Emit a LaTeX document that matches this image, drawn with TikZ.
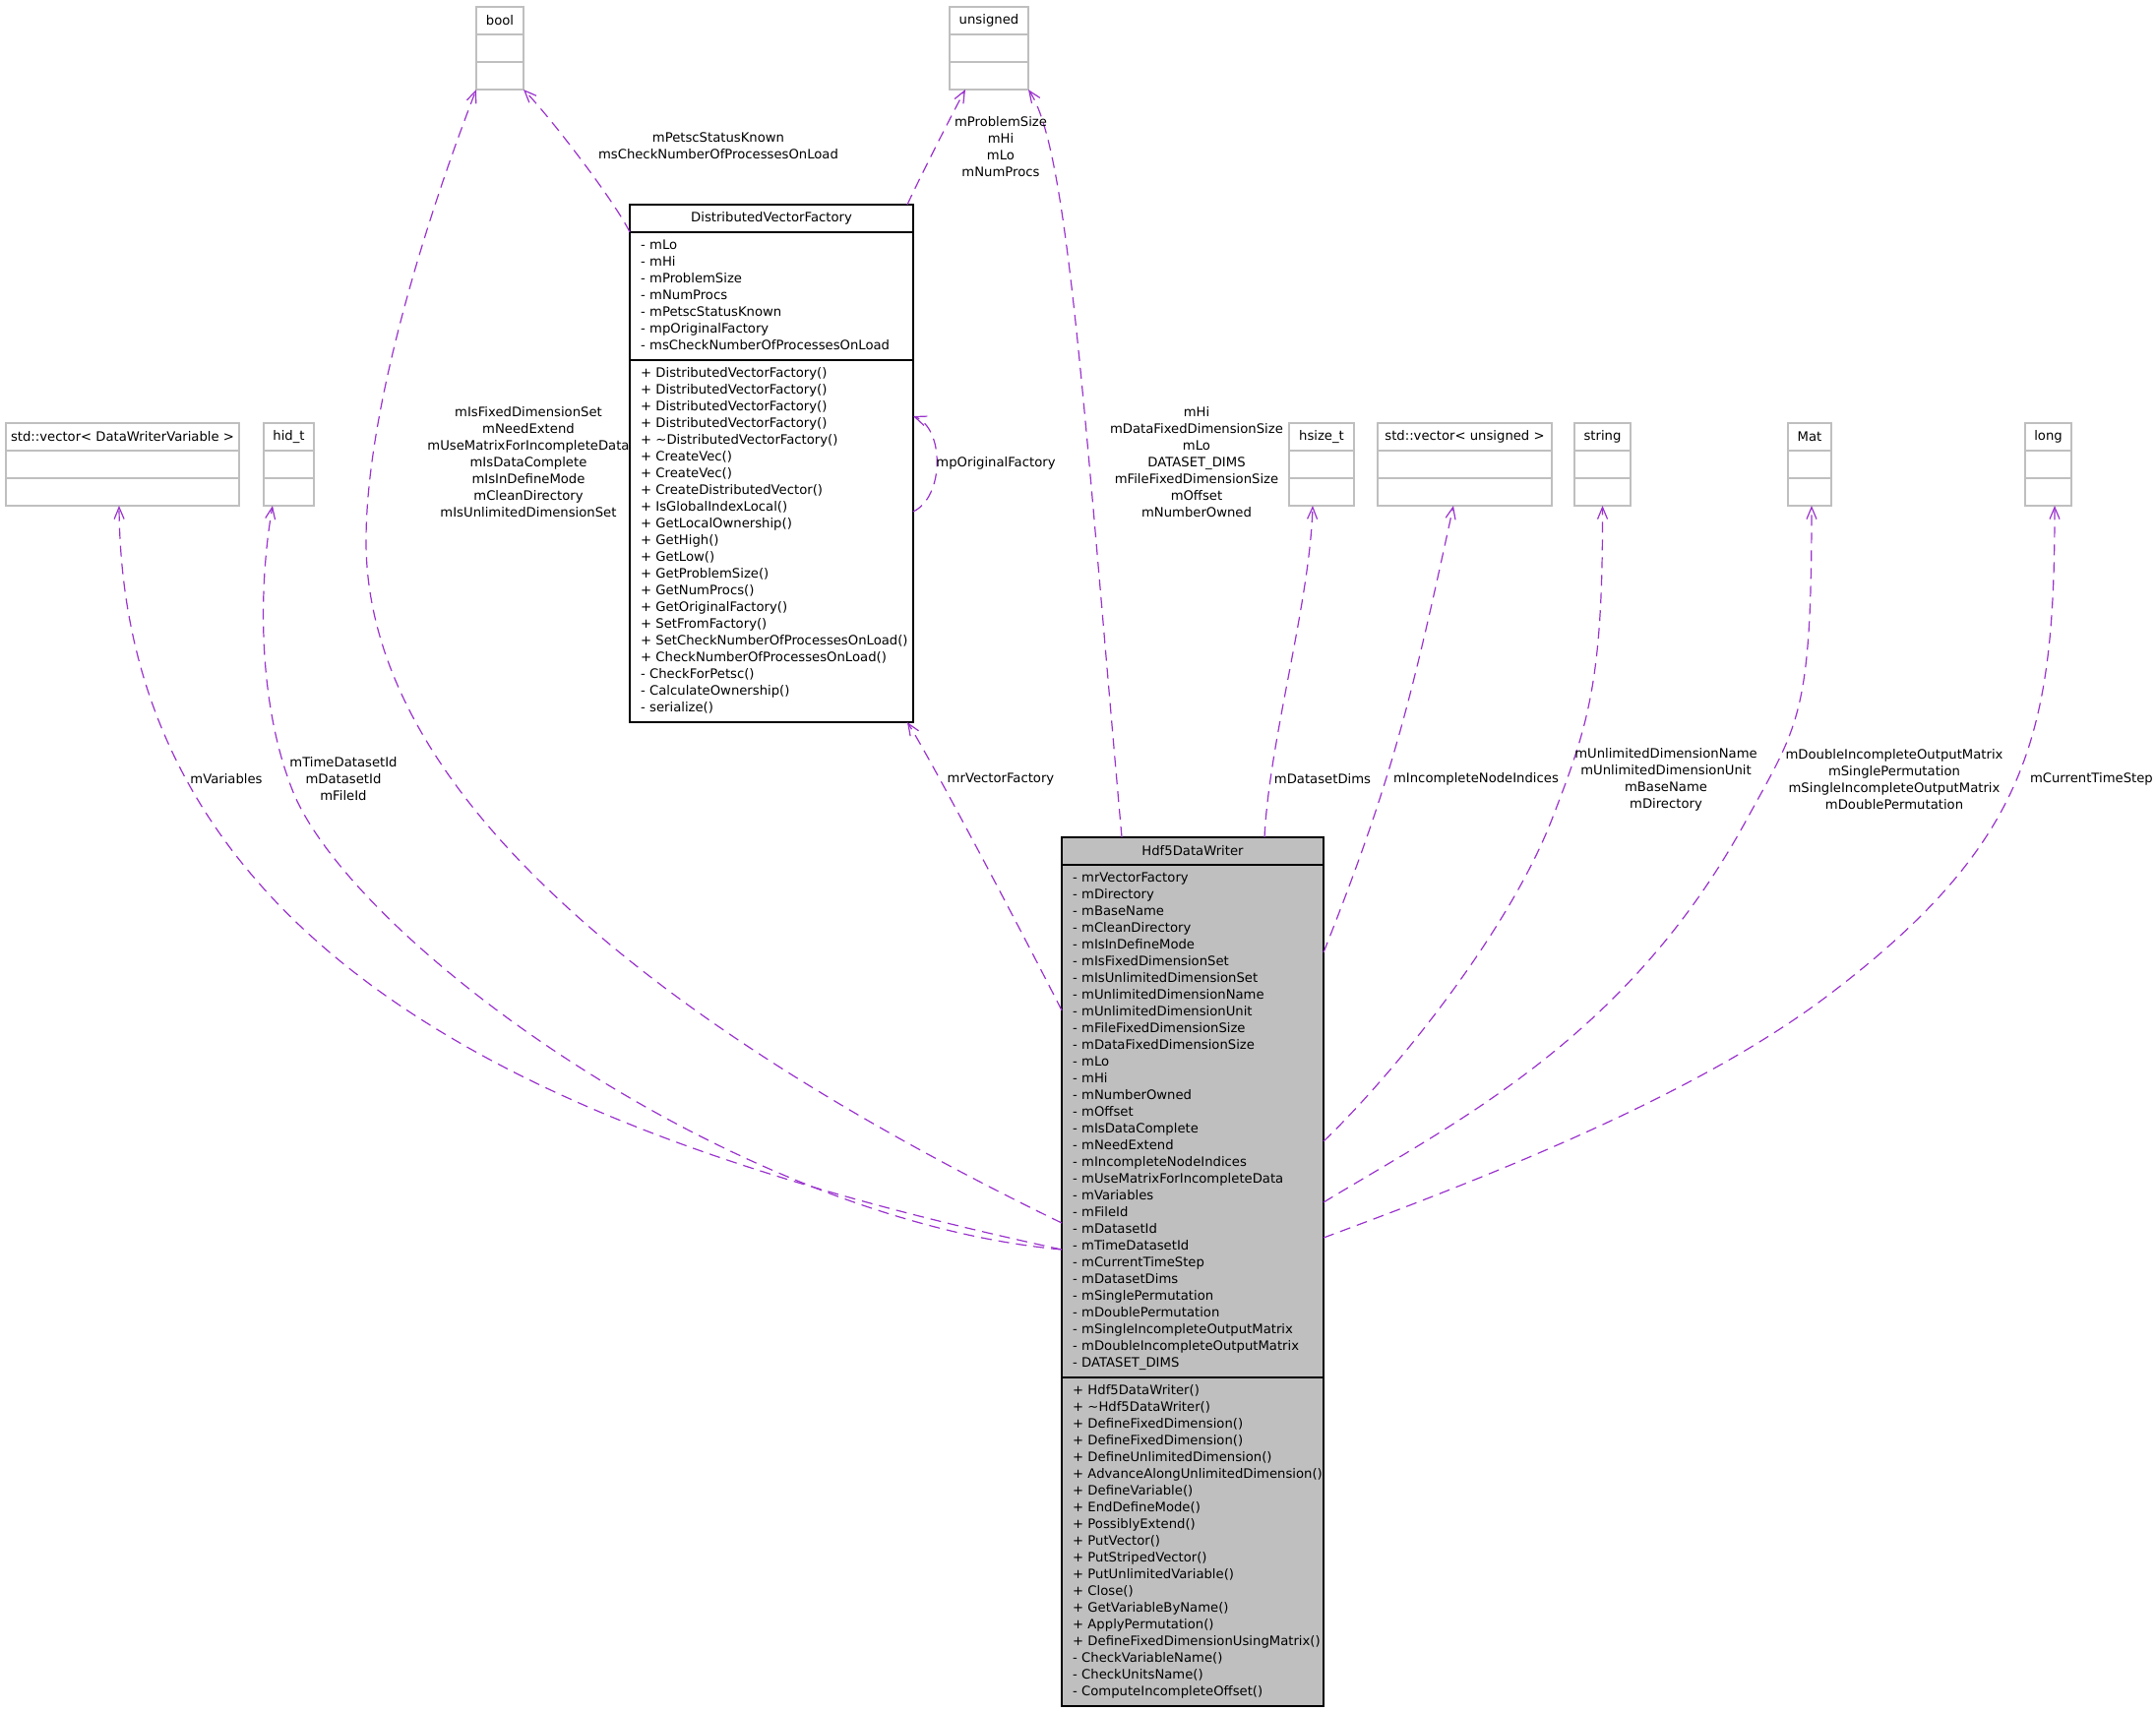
\documentclass[tikz,border=0pt]{standalone}
\usepackage{fontspec}
\setmainfont{DejaVu Sans}
\usetikzlibrary{positioning, arrows.meta}

\definecolor{edgepurple}{HTML}{9A32CD}
\definecolor{boxgrey}{HTML}{BFBFBF}

\begin{document}
\begin{tikzpicture}[x=0.5pt, y=-0.5pt,
    every node/.style={font=\fontsize{6.6}{8.5}\selectfont, inner sep=0pt, outer sep=0pt},
    typehead/.style={draw=boxgrey, line width=0.6pt, minimum height=14pt, anchor=north},
    typepart/.style={draw=boxgrey, line width=0.6pt, minimum height=14pt},
    classhead/.style={draw, line width=0.6pt, minimum width=#1, minimum height=14pt, anchor=north west},
    classpart/.style={draw, line width=0.6pt, text width=#1, inner xsep=5.5pt, inner ysep=2.75pt,
      align=left, execute at begin node={\hyphenpenalty=10000\exhyphenpenalty=10000\strut},
      execute at end node=\strut},
    usage/.style={draw=edgepurple, line width=0.6pt, dash pattern=on 5.5pt off 3.5pt,
      -{Straight Barb[length=6pt,width=5pt]}},
    lbl/.style={align=center}]

  \useasboundingbox (0,0) rectangle (2191,1739);

  % Type boxes
  \foreach \name/\x/\y/\w/\txt in {tbool/508/7/24/bool, tunsigned/1005/7/40/unsigned,
      tvecdwv/124.5/430/118.5/std::vector< DataWriterVariable >, thidt/293.5/430/25.5/hid\_t,
      thsizet/1343/430/33/hsize\_t, tvecuns/1488.5/430/88.5/std::vector< unsigned >,
      tstring/1628.5/430/28.5/string, tmat/1839/430/22/Mat, tlong/2081.5/430/23.5/long} {
    \node[typehead, minimum width=\w pt] (\name) at (\x,\y) {\txt};
    \node[typepart, minimum width=\w pt, below=0pt of \name] (\name-a) {};
    \node[typepart, minimum width=\w pt, below=0pt of \name-a] (\name-o) {};
  }

  % DistributedVectorFactory
  \node[classhead=144pt, fill=white] (dvf) at (640,208) {DistributedVectorFactory};
  \node[classpart=133pt, below=0pt of dvf] (dvf-attr) {- mLo\\- mHi\\- mProblemSize\\- mNumProcs\\
    - mPetscStatusKnown\\- mpOriginalFactory\\- msCheckNumberOfProcessesOnLoad};
  \node[classpart=133pt, below=0pt of dvf-attr] (dvf-ops) {+ DistributedVectorFactory()\\
    + DistributedVectorFactory()\\+ DistributedVectorFactory()\\+ DistributedVectorFactory()\\
    + \textasciitilde DistributedVectorFactory()\\+ CreateVec()\\+ CreateVec()\\
    + CreateDistributedVector()\\+ IsGlobalIndexLocal()\\+ GetLocalOwnership()\\+ GetHigh()\\
    + GetLow()\\+ GetProblemSize()\\+ GetNumProcs()\\+ GetOriginalFactory()\\+ SetFromFactory()\\
    +~SetCheckNumberOfProcessesOnLoad()\\+~CheckNumberOfProcessesOnLoad()\\- CheckForPetsc()\\
    - CalculateOwnership()\\- serialize()};

  % Hdf5DataWriter
  \node[classhead=133pt, fill=boxgrey] (hdf) at (1079,851) {Hdf5DataWriter};
  \node[classpart=122pt, fill=boxgrey, below=0pt of hdf] (hdf-attr) {- mrVectorFactory\\- mDirectory\\
    - mBaseName\\- mCleanDirectory\\- mIsInDefineMode\\- mIsFixedDimensionSet\\
    - mIsUnlimitedDimensionSet\\- mUnlimitedDimensionName\\- mUnlimitedDimensionUnit\\
    - mFileFixedDimensionSize\\- mDataFixedDimensionSize\\- mLo\\- mHi\\- mNumberOwned\\- mOffset\\
    - mIsDataComplete\\- mNeedExtend\\- mIncompleteNodeIndices\\- mUseMatrixForIncompleteData\\
    - mVariables\\- mFileId\\- mDatasetId\\- mTimeDatasetId\\- mCurrentTimeStep\\- mDatasetDims\\
    - mSinglePermutation\\- mDoublePermutation\\- mSingleIncompleteOutputMatrix\\
    -~mDoubleIncompleteOutputMatrix\\- DATASET\_DIMS};
  \node[classpart=122pt, fill=boxgrey, below=0pt of hdf-attr] (hdf-ops) {+ Hdf5DataWriter()\\
    + \textasciitilde Hdf5DataWriter()\\+ DefineFixedDimension()\\+ DefineFixedDimension()\\
    + DefineUnlimitedDimension()\\+~AdvanceAlongUnlimitedDimension()\\+ DefineVariable()\\
    + EndDefineMode()\\+ PossiblyExtend()\\+ PutVector()\\+ PutStripedVector()\\
    + PutUnlimitedVariable()\\+ Close()\\+ GetVariableByName()\\+ ApplyPermutation()\\
    +~DefineFixedDimensionUsingMatrix()\\- CheckVariableName()\\- CheckUnitsName()\\
    - ComputeIncompleteOffset()};

  % Usage edges of DistributedVectorFactory
  \draw[usage] (dvf.south west) .. controls (625,205) and (560,120) .. (tbool-o.south east);
  \draw[usage] ([xshift=-3pt]dvf.north east) .. controls (935,180) and (968,115)
    .. ([xshift=8pt]tunsigned-o.south west);
  \draw[usage] ([yshift=-77pt]dvf-ops.north east) .. controls (960,505) and (960,435)
    .. ([yshift=-28.5pt]dvf-ops.north east);

  % Usage edges of Hdf5DataWriter, left side
  \draw[usage] ([yshift=-195.5pt]hdf-attr.north west) .. controls (620,1170) and (125,1000)
    .. ([xshift=-1.75pt]tvecdwv-o.south);
  \draw[usage] ([yshift=-195.5pt]hdf-attr.north west) .. controls (750,1240) and (370,965)
    .. (300,810) .. controls (262,720) and (262,600) .. ([xshift=-8.25pt]thidt-o.south);
  \draw[usage] ([yshift=-182pt]hdf-attr.north west) .. controls (779,1097) and (372,850)
    .. (372,550) .. controls (372,400) and (449,181) .. (tbool-o.south west);
  \draw[usage] ([yshift=-74pt]hdf-attr.north west) .. controls (1040,950) and (945,770)
    .. ([xshift=-3pt]dvf-ops.south east);

  % Usage edges of Hdf5DataWriter, top and right side
  \draw[usage] ([xshift=30.5pt]hdf.north west) .. controls (1100,400) and (1085,150)
    .. (tunsigned-o.south east);
  \draw[usage] ([xshift=103pt]hdf.north west) .. controls (1290,751) and (1331,614)
    .. ([xshift=-4.5pt]thsizet-o.south);
  \draw[usage] ([yshift=-44.5pt]hdf-attr.north east) .. controls (1416,790) and (1436,703)
    .. ([xshift=-5.75pt]tvecuns-o.south);
  \draw[usage] ([yshift=-140.5pt]hdf-attr.north east) .. controls (1414,1094) and (1532,949)
    .. (1577,833) .. controls (1614,737) and (1629,694) .. (tstring-o.south);
  \draw[usage] ([yshift=-171.5pt]hdf-attr.north east) .. controls (1480,1140) and (1654,1055)
    .. (1775,833) .. controls (1828,736) and (1841,727) .. ([xshift=1pt]tmat-o.south);
  \draw[usage] ([yshift=-189.5pt]hdf-attr.north east) .. controls (1507,1198) and (1719,1116)
    .. (1856,1013) .. controls (2064,856) and (2088,743) .. ([xshift=3.25pt]tlong-o.south);

  % Edge labels
  \node[lbl] (lbl-petsc) at (730,148.5) {mPetscStatusKnown\\msCheckNumberOfProcessesOnLoad};
  \node[lbl] (lbl-procs) at (1017,149) {mProblemSize\\mHi\\mLo\\mNumProcs};
  \node[lbl] (lbl-flags) at (537,470) {mIsFixedDimensionSet\\mNeedExtend\\mUseMatrixForIncompleteData\\
    mIsDataComplete\\mIsInDefineMode\\mCleanDirectory\\mIsUnlimitedDimensionSet};
  \node[lbl] (lbl-sizes) at (1216,470) {mHi\\mDataFixedDimensionSize\\mLo\\DATASET\_DIMS\\
    mFileFixedDimensionSize\\mOffset\\mNumberOwned};
  \node[lbl] (lbl-orig) at (1012,471) {mpOriginalFactory};
  \node[lbl] (lbl-vars) at (230,792) {mVariables};
  \node[lbl] (lbl-ids) at (349,792) {mTimeDatasetId\\mDatasetId\\mFileId};
  \node[lbl] (lbl-factory) at (1017,792) {mrVectorFactory};
  \node[lbl] (lbl-dims) at (1344,792) {mDatasetDims};
  \node[lbl] (lbl-nodes) at (1500,792) {mIncompleteNodeIndices};
  \node[lbl] (lbl-names) at (1693,792) {mUnlimitedDimensionName\\mUnlimitedDimensionUnit\\mBaseName\\mDirectory};
  \node[lbl] (lbl-perm) at (1925,792) {mDoubleIncompleteOutputMatrix\\mSinglePermutation\\
    mSingleIncompleteOutputMatrix\\mDoublePermutation};
  \node[lbl, anchor=west] (lbl-step) at (2063,792) {mCurrentTimeStep};

\end{tikzpicture}
\end{document}
